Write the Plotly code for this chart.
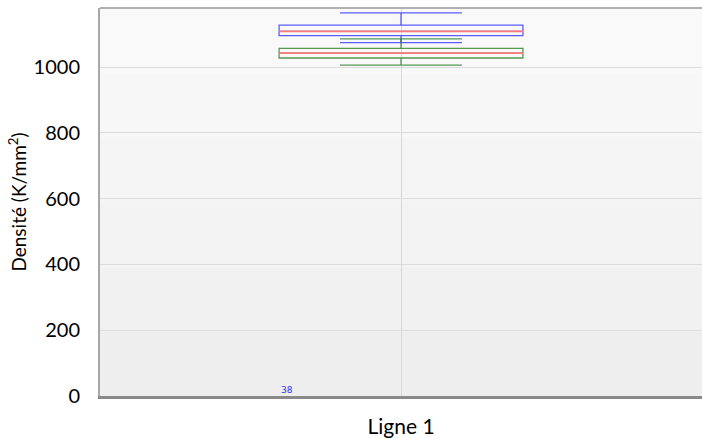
import plotly.graph_objects as go

# ---- data ----
category = ["Ligne 1"]
series_names = ["Série A", "Série B"]
lower_fence = [1075, 1006]
q1 = [1096, 1028]
median = [1109, 1043]
q3 = [1128, 1057]
upper_fence = [1165, 1086]
count_label = ["38"]
y_ticks = [0, 200, 400, 600, 800, 1000]

box_colors = ["rgba(40,40,255,0.75)", "rgba(30,120,30,0.75)"]
median_color = "#ff7a7a"
box_w = 0.405

fig = go.Figure()

# background gradient bands
grays = ["#f9f9f9", "#f7f7f7", "#f5f5f5", "#f3f3f3", "#f1f1f1", "#eeeeee"]
n = len(grays)
for i, g in enumerate(grays):
    fig.add_shape(type="rect", xref="paper", yref="paper", x0=0, x1=1,
                  y0=1 - (i + 1) / n, y1=1 - i / n, fillcolor=g,
                  line_width=0, layer="below")

for i in range(len(series_names)):
    fig.add_trace(go.Box(
        name=series_names[i], x=[0],
        q1=[q1[i]], median=[median[i]], q3=[q3[i]],
        lowerfence=[lower_fence[i]], upperfence=[upper_fence[i]],
        width=box_w, whiskerwidth=0.5,
        fillcolor="rgba(0,0,0,0)",
        line=dict(color=box_colors[i], width=1.3),
        boxpoints=False, showlegend=False, hoverinfo="skip"))
    fig.add_trace(go.Scatter(
        x=[-box_w / 2, box_w / 2], y=[median[i], median[i]],
        mode="lines", line=dict(color=median_color, width=1.8),
        showlegend=False, hoverinfo="skip"))

fig.add_annotation(x=-0.19, y=0, xref="x", yref="y", text=count_label[0],
                   showarrow=False, yanchor="bottom", yshift=-1,
                   font=dict(size=9, color="#3333ff",
                             family="Liberation Sans Narrow, DejaVu Sans"))

# top border
fig.add_shape(type="line", xref="paper", yref="paper", x0=0, x1=1, y0=1, y1=1,
              line=dict(color="#b0b0b0", width=2))

fig.update_layout(
    width=702, height=439,
    margin=dict(l=100, r=0, t=8, b=43, autoexpand=False),
    paper_bgcolor="white", plot_bgcolor="rgba(0,0,0,0)",
    boxmode="overlay",
    font=dict(family="Lato, Open Sans, sans-serif", color="black"),
    xaxis=dict(range=[-0.5, 0.5], tickvals=[0], ticktext=category,
               showgrid=True, gridcolor="#d8d8d8", gridwidth=1,
               zeroline=False, showline=True, linecolor="#8a8a8a",
               linewidth=3, ticks="outside", ticklen=10,
               tickcolor="rgba(0,0,0,0)", tickfont=dict(size=21)),
    yaxis=dict(range=[0, 1180], tickvals=y_ticks,
               showgrid=True, gridcolor="#dcdcdc", gridwidth=1,
               zeroline=False, showline=True, linecolor="#a8a8a8",
               linewidth=2, ticks="outside", ticklen=14,
               tickcolor="rgba(0,0,0,0)", tickfont=dict(size=20),
               title=dict(text="Densité (K/mm<sup>2</sup>)",
                          font=dict(size=19), standoff=2)),
)

fig.write_html("out.html", config={"displayModeBar": False},
               post_script="document.body.style.margin='0';")
